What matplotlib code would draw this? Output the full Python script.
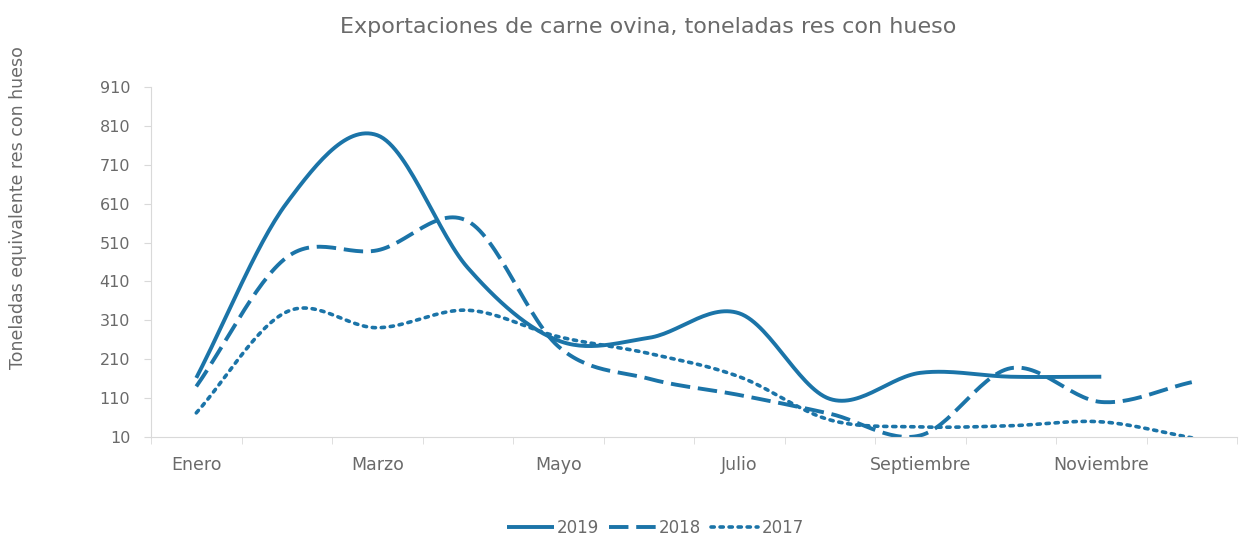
import matplotlib.pyplot as plt
import numpy as np

months = ["Enero", "Febrero", "Marzo", "Abril", "Mayo", "Junio", "Julio",
          "Agosto", "Septiembre", "Octubre", "Noviembre", "Diciembre"]
y2019 = [162, 612, 786, 445, 258, 265, 328, 108, 175, 165, 165]
y2018 = [140, 472, 490, 565, 243, 160, 118, 70, 14, 187, 100, 151]
y2017 = [72, 332, 291, 336, 268, 225, 165, 54, 36, 39, 49, 8]

color = "#1B74A8"
grey = "#6a6a6a"
plt.rcParams["font.family"] = ["DejaVu Sans"]


def smooth(vals, n=30):
    # catmull-rom style smoothing, like the spreadsheet "smoothed line"
    x = np.arange(len(vals), dtype=float)
    y = np.array(vals, dtype=float)
    px = np.concatenate([[2 * x[0] - x[1]], x, [2 * x[-1] - x[-2]]])
    py = np.concatenate([[2 * y[0] - y[1]], y, [2 * y[-1] - y[-2]]])
    xs, ys = [], []
    for i in range(1, len(px) - 2):
        t = np.linspace(0, 1, n, endpoint=False)
        for arr, out in ((px, xs), (py, ys)):
            p0, p1, p2, p3 = arr[i - 1], arr[i], arr[i + 1], arr[i + 2]
            out.extend(0.5 * ((2 * p1) + (-p0 + p2) * t
                              + (2 * p0 - 5 * p1 + 4 * p2 - p3) * t ** 2
                              + (-p0 + 3 * p1 - 3 * p2 + p3) * t ** 3))
    xs.append(x[-1])
    ys.append(y[-1])
    return np.array(xs), np.array(ys)


fig = plt.figure(figsize=(12.41, 5.43), dpi=100)
ax = fig.add_axes([0.1217, 0.1952, 0.8751, 0.6446])

sx, sy = smooth(y2019)
ax.plot(sx, sy, color=color, lw=2.8, solid_capstyle="butt", label="2019")
sx, sy = smooth(y2018)
ax.plot(sx, sy, color=color, lw=2.8, dashes=(5, 2), label="2018")
sx, sy = smooth(y2017)
ax.plot(sx, sy, color=color, lw=2.6, dashes=(0.9, 1.6), dash_capstyle="round", label="2017")

ax.set_xlim(-0.5, 11.5)
ax.set_ylim(10, 910)
ax.set_yticks(np.arange(10, 911, 100))
ax.set_xticks(range(0, 12, 2))
ax.set_xticklabels(months[::2])
ax.set_xticks(np.arange(-0.5, 12, 1), minor=True)
ax.tick_params(axis="x", which="major", length=0, pad=14, labelsize=12.5, labelcolor=grey)
ax.tick_params(axis="x", which="minor", length=5, color="#d9d9d9")
ax.tick_params(axis="y", length=5, color="#d9d9d9", labelsize=11.5, labelcolor=grey, pad=10)

for s in ["top", "right"]:
    ax.spines[s].set_visible(False)
for s in ["left", "bottom"]:
    ax.spines[s].set_color("#d9d9d9")

ax.set_ylabel("Toneladas equivalente res con hueso", color=grey, fontsize=12.5)
ax.yaxis.set_label_coords(-0.114, 0.655)
fig.suptitle("Exportaciones de carne ovina, toneladas res con hueso",
             x=0.522, y=0.968, fontsize=16, color=grey)

leg = fig.legend(loc="center", bbox_to_anchor=(0.528, 0.028), ncol=3, frameon=False,
                 fontsize=12, handlelength=2.8, handletextpad=0.2, columnspacing=0.6)
for t in leg.get_texts():
    t.set_color(grey)

fig.savefig("out.png", dpi=100)
